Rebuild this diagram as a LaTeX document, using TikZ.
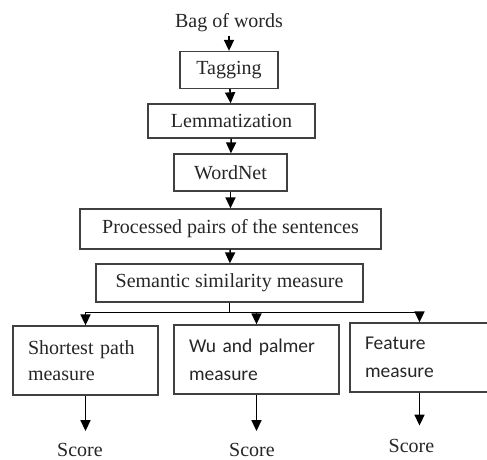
\documentclass[tikz,border=0pt]{standalone}
\usepackage{fontspec}
\setmainfont{Liberation Serif}
\newfontfamily\calibrifont{Carlito}
\usetikzlibrary{positioning, arrows.meta}
\tikzset{
        >={Triangle[width=10pt,length=11pt]}, % filled arrow heads
        every node/.style={font=\fontsize{20}{26}\selectfont, text=black!85},
        stepbox/.style={draw=black!75, line width=1.3pt, minimum height=37pt}, % the boxes of the chain
        measurebox/.style={draw=black!75, line width=1.3pt, minimum height=69pt, align=left, inner xsep=15pt}, % the three measures
        sansbox/.style={measurebox, font=\calibrifont\fontsize{19.5}{28}\selectfont},
        flow/.style={->, line width=1.6pt},
    }

\begin{document}
\begin{tikzpicture}[node distance=52pt]
    \useasboundingbox (0,0) rectangle (487pt,-460pt);
    \node (bag) at (229pt,-23pt) {Bag of words};
    \node[stepbox, below of=bag, node distance=47pt, minimum width=98pt] (tagging) {Tagging};
    \node[stepbox, below of=tagging, node distance=51pt, xshift=2.5pt, minimum width=167pt, minimum height=34pt] (lemma) {Lemmatization};
    \node[stepbox, below of=lemma, node distance=51.5pt, xshift=-1pt, minimum width=113pt] (wordnet) {WordNet};
    \node[stepbox, below of=wordnet, node distance=56.5pt, minimum width=301pt, minimum height=40pt] (pairs) {Processed pairs of the sentences};
    \node[stepbox, below of=pairs, node distance=54pt, xshift=-1pt, minimum width=267pt, minimum height=38pt] (semantic) {Semantic similarity measure};
    \coordinate[below=10pt of semantic] (fork);
    % the three measures
    \node[measurebox, below of=semantic, node distance=77.5pt, xshift=-144pt, text width=115pt] (shortest) {Shortest path\\measure};
    \node[sansbox, below of=semantic, node distance=76.5pt, xshift=27pt, text width=135pt] (wupalmer) {Wu and palmer\\measure};
    \node[sansbox, below of=semantic, node distance=74.5pt, xshift=190pt, text width=109pt] (feature) {Feature\\measure};
    \node[below of=shortest, node distance=89.5pt, xshift=-5.5pt, inner sep=1pt] (score1) {Score};
    \node[below of=wupalmer, node distance=90.5pt, xshift=-4.5pt, inner sep=1pt] (score2) {Score};
    \node[below of=feature, node distance=88pt, xshift=-8pt, inner sep=1pt] (score3) {Score};
    \draw[flow] (bag) -- (tagging);
    \draw[flow] (tagging) -- (lemma);
    \draw[flow] (lemma) -- (wordnet);
    \draw[flow] (wordnet) -- (pairs);
    \draw[flow] (pairs) -- (semantic);
    \draw[line width=1.6pt] (semantic) -- (fork);
    \draw[flow] (fork) -| (shortest);
    \draw[flow] (fork) -| (wupalmer);
    \draw[flow] (fork) -| (feature);
    \draw[flow, shorten >=11pt] (shortest) -- (shortest |- score1.north);
    \draw[flow, shorten >=11pt] (wupalmer) -- (wupalmer |- score2.north);
    \draw[flow, shorten >=12pt] (feature) -- (feature |- score3.north);
\end{tikzpicture}
\end{document}
